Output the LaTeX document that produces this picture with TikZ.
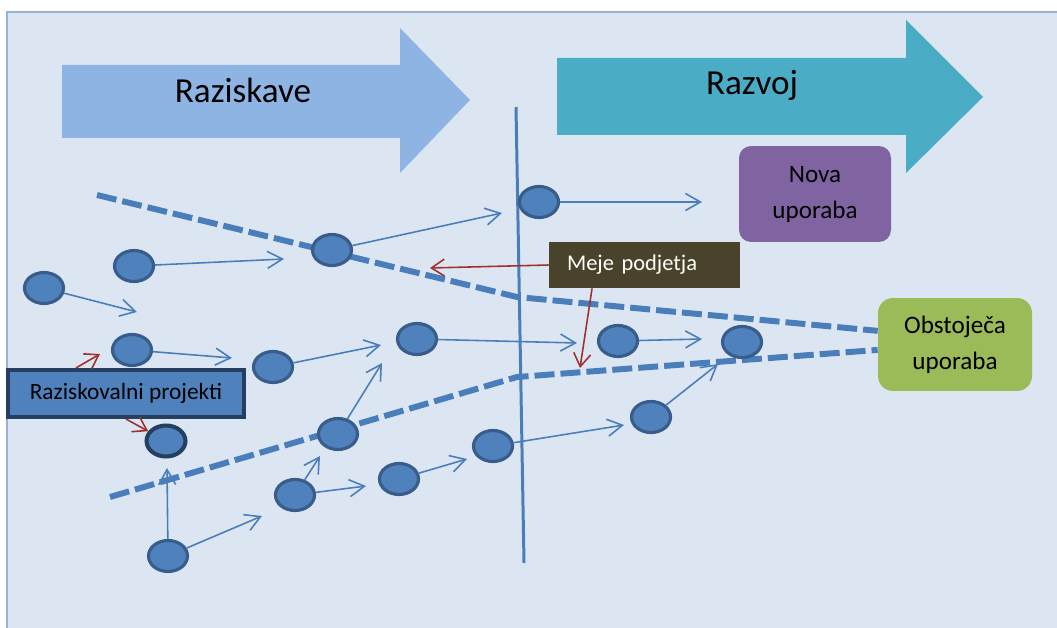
\documentclass[tikz,border=0pt]{standalone}
\usepackage{fontspec}
\setmainfont{Carlito}
\usetikzlibrary{shapes.geometric,arrows.meta}
\definecolor{panelbg}{HTML}{DCE6F2}
\definecolor{panelline}{HTML}{95B3D7}
\definecolor{stageone}{HTML}{8EB4E3}
\definecolor{stagetwo}{HTML}{4BACC6}
\definecolor{dotfill}{HTML}{4F81BD}
\definecolor{dotline}{HTML}{385D8A}
\definecolor{flowline}{HTML}{4A7EBB}
\definecolor{projline}{HTML}{243F60}
\definecolor{hintred}{HTML}{A0302E}
\definecolor{mejefill}{HTML}{4A432B}
\definecolor{novafill}{HTML}{8064A2}
\definecolor{obstfill}{HTML}{9BBB59}

\begin{document}
\begin{tikzpicture}[x=0.02cm,y=0.02cm]
	\tikzstyle{every node}+=[inner sep=0pt]
	\tikzstyle{dot}=[ellipse, draw=dotline, fill=dotfill, line width=1.8pt, minimum width=0.78cm, minimum height=0.62cm]
	\tikzstyle{flow}=[draw=flowline, line width=0.9pt, -{Straight Barb[length=0.3cm,width=0.34cm]}]
	\tikzstyle{hint}=[draw=hintred, line width=0.9pt, -{Straight Barb[length=0.26cm,width=0.34cm]}]
	\tikzstyle{border}=[draw=flowline, line width=3.4pt, dash pattern=on 0.4cm off 0.12cm]
	\tikzstyle{bigtext}=[font=\fontsize{20}{23}\selectfont]
	\tikzstyle{smalltext}=[font=\fontsize{12.8}{20}\selectfont, align=center]
	\tikzstyle{usetext}=[font=\fontsize{14.3}{20.5}\selectfont, align=center]
	\useasboundingbox (0,0) rectangle (1057,-628);
	\fill [panelbg] (7,-12) rectangle (1057,-628);
	\draw [panelline, line width=1.2pt] (7,-628) -- (7,-12) -- (1057,-12);
	\fill [stageone] (62,-65) -- (400,-65) -- (400,-28) -- (470,-100) -- (400,-173) -- (400,-138) -- (62,-138) -- cycle;
	\fill [stagetwo] (557,-58) -- (906,-58) -- (906,-20) -- (983,-97) -- (906,-173) -- (906,-135) -- (557,-135) -- cycle;
	\node [bigtext, anchor=base] (raz) at (243,-103) {Raziskave};
	\node [bigtext, anchor=base] (dev) at (752,-95) {Razvoj};
	\node [usetext, fill=novafill, rounded corners=0.24cm, minimum width=3.04cm, minimum height=1.92cm] (nova) at (815,-194) {Nova\\uporaba};
	\node [usetext, fill=obstfill, rounded corners=0.3cm, minimum width=3.08cm, minimum height=1.86cm] (obst) at (955,-344.5) {Obstoječa\\uporaba};
	\coordinate (vtop) at (516,-107);
	\coordinate (vbot) at (524,-563);
	\draw [flowline, line width=1.7pt] (vtop) -- (vbot);
	\coordinate (up1) at (97,-195);
	\coordinate (up2) at (517,-297);
	\coordinate (lo1) at (110,-497);
	\coordinate (lo2) at (517,-377);
	\draw [border] (up1) -- (up2) -- (obst.170);
	\draw [border] (lo1) -- (lo2) -- (obst.184);
	\node [dot] (n1) at (44,-288) {};
	\node [dot] (n2) at (134,-266) {};
	\node [dot] (n3) at (332,-250) {};
	\node [dot] (n4) at (539,-202) {};
	\node [dot] (n5) at (132,-350) {};
	\node [dot] (n6) at (273,-367) {};
	\node [dot] (n7) at (417,-339) {};
	\node [dot] (n8) at (618,-341) {};
	\node [dot] (n9) at (742,-342) {};
	\node [dot, draw=projline, line width=2.3pt] (n10) at (166,-441) {};
	\node [dot] (n11) at (338,-434) {};
	\node [dot] (n12) at (295,-495) {};
	\node [dot] (n13) at (399,-479) {};
	\node [dot] (n14) at (493,-446) {};
	\node [dot] (n15) at (651,-417) {};
	\node [dot] (n16) at (168,-556) {};
	\coordinate (t1) at (137,-312);
	\coordinate (t2) at (284,-259);
	\coordinate (t3) at (502,-213);
	\coordinate (t4) at (702,-202);
	\coordinate (t5) at (232,-358);
	\coordinate (t6) at (381,-345);
	\coordinate (t7) at (577,-343);
	\coordinate (t8) at (702,-339);
	\coordinate (t11) at (382,-363);
	\coordinate (t12a) at (320,-456);
	\coordinate (t12b) at (366,-486);
	\coordinate (t13) at (467,-459);
	\coordinate (t14) at (624,-425);
	\coordinate (t15) at (718,-364);
	\coordinate (t16a) at (262,-516);
	\coordinate (t16b) at (167,-468);
	\draw [flow] (n1) -- (t1);
	\draw [flow] (n2) -- (t2);
	\draw [flow] (n3) -- (t3);
	\draw [flow] (n4) -- (t4);
	\draw [flow] (n5) -- (t5);
	\draw [flow] (n6) -- (t6);
	\draw [flow] (n7) -- (t7);
	\draw [flow] (n8) -- (t8);
	\draw [flow] (n11) -- (t11);
	\draw [flow] (n12) -- (t12a);
	\draw [flow] (n12) -- (t12b);
	\draw [flow] (n13) -- (t13);
	\draw [flow] (n14) -- (t14);
	\draw [flow] (n15) -- (t15);
	\draw [flow] (n16) -- (t16a);
	\draw [flow] (n16) -- (t16b);
	\node [smalltext, text=white, fill=mejefill, align=left, inner xsep=0.36cm, text width=3.1cm, minimum height=0.92cm] (meje) at (644.5,-265) {Meje podjetja};
	\coordinate (m1) at (430,-268);
	\coordinate (m2) at (580,-368);
	\draw [hint] (meje.west) -- (m1);
	\draw [hint] (meje.204) -- (m2);
	\node [smalltext, font=\fontsize{13.3}{20}\selectfont, fill=dotfill, draw=projline, line width=2.3pt, minimum width=4.72cm, minimum height=0.94cm] (proj) at (126,-393.5) {Raziskovalni projekti};
	\coordinate (p1) at (100,-354);
	\draw [hint] (proj.153) -- (p1);
	\draw [hint] (proj.south) -- (n10);
\end{tikzpicture}
\end{document}
